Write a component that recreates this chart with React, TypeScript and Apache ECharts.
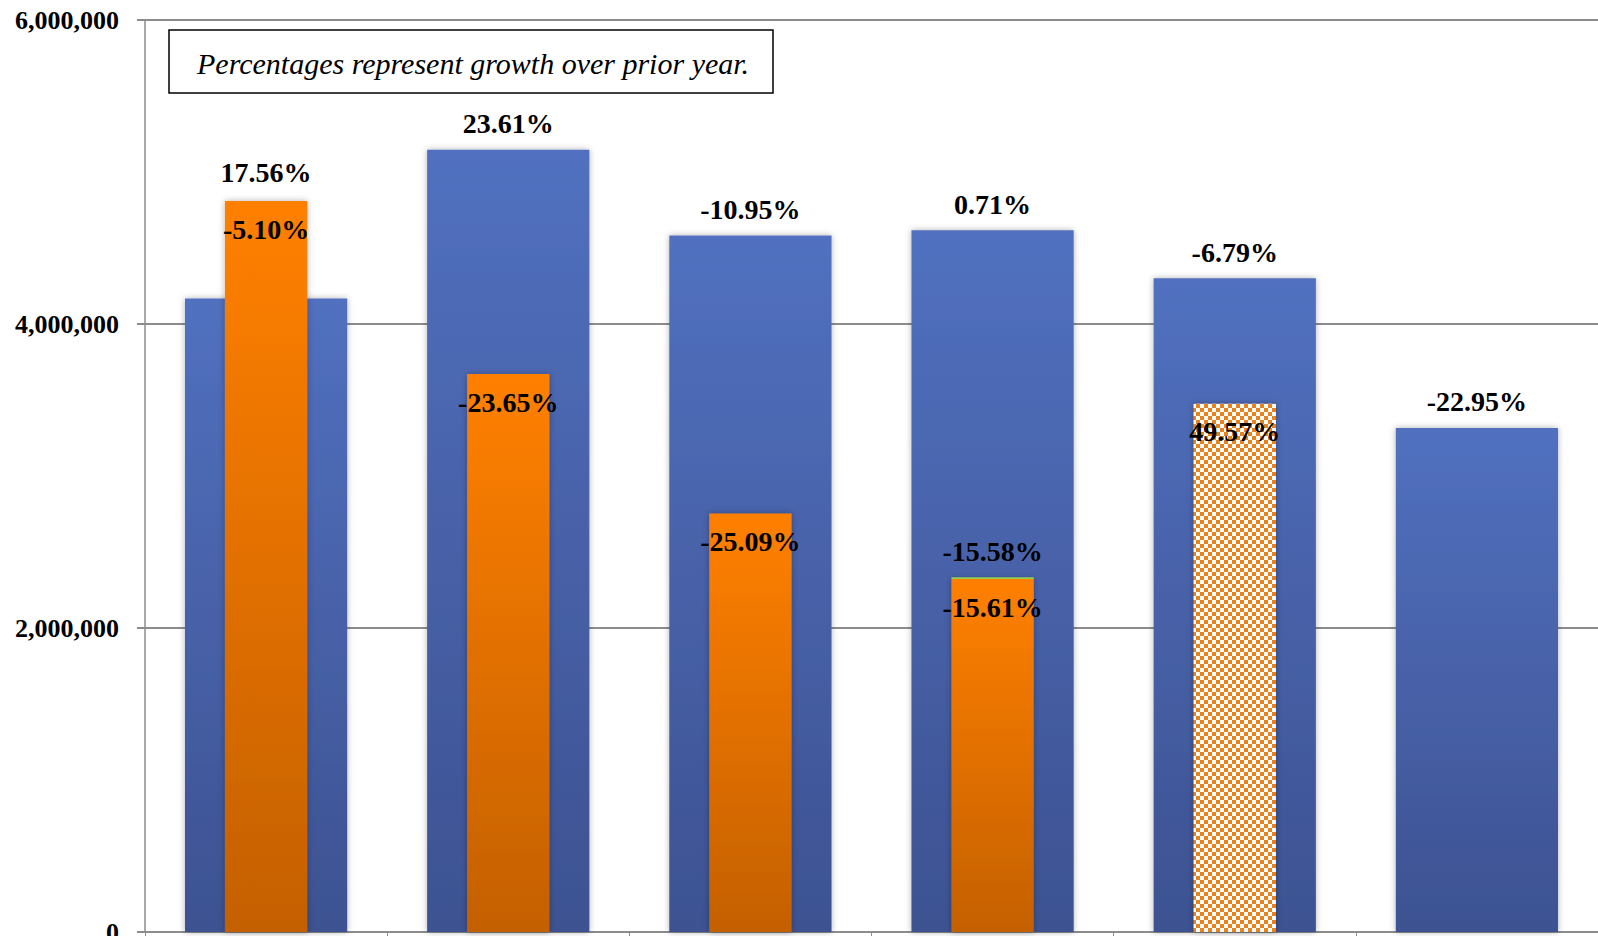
import React, { useEffect, useRef } from "react";
import * as echarts from "echarts";

const categories = ["C1", "C2", "C3", "C4", "C5", "C6"];
const totalValues = [4167000, 5146000, 4583000, 4616000, 4301000, 3316000];
const totalLabels = ["17.56%", "23.61%", "-10.95%", "0.71%", "-6.79%", "-22.95%"];
const partValues: (number | null)[] = [4809000, 3671000, 2753000, 2322000, 3476000, null];
const partLabels = ["-5.10%", "-23.65%", "-25.09%", "-15.61%", "49.57%", ""];
const extraValues: (number | null)[] = [null, null, null, 12000, null, null];
const extraLabels = ["", "", "", "-15.58%", "", ""];
const yTicks = [0, 2000000, 4000000, 6000000];
const note = "Percentages represent growth over prior year.";

const FONT = "'Liberation Serif', 'Times New Roman', serif";

function makeChecker(): HTMLCanvasElement {
  const c = document.createElement("canvas");
  c.width = 8;
  c.height = 8;
  const ctx = c.getContext("2d")!;
  ctx.fillStyle = "#ffffff";
  ctx.fillRect(0, 0, 8, 8);
  ctx.fillStyle = "#E8821E";
  ctx.fillRect(0, 0, 4, 4);
  ctx.fillRect(4, 4, 4, 4);
  return c;
}

export default function App() {
  const ref = useRef<HTMLDivElement>(null);
  useEffect(() => {
    if (!ref.current) return;
    const chart = echarts.init(ref.current, undefined, { renderer: "svg" });
    const blueGrad = new echarts.graphic.LinearGradient(0, 0, 0, 1, [
      { offset: 0, color: "#5170BF" },
      { offset: 1, color: "#3D5291" },
    ]);
    const orangeGrad = new echarts.graphic.LinearGradient(0, 0, 0, 1, [
      { offset: 0, color: "#FF8000" },
      { offset: 1, color: "#C46000" },
    ]);
    const checker = makeChecker();
    const labelStyle = {
      fontFamily: FONT,
      fontWeight: "bold" as const,
      fontSize: 28,
      color: "#000",
    };
    const shadow = {
      shadowBlur: 6,
      shadowColor: "rgba(0,0,0,0.3)",
    };
    chart.setOption({
      animation: false,
      grid: {
        left: 145,
        right: 0,
        top: 20,
        bottom: 4,
        containLabel: false,
        outerBoundsMode: "none",
      },
      xAxis: [
        {
          type: "category",
          data: categories,
          axisLine: { show: true, lineStyle: { color: "#8c8c8c", width: 2 } },
          axisTick: { show: true, length: 6, lineStyle: { color: "#8c8c8c" } },
          axisLabel: { show: false },
        },
        {
          type: "category",
          data: categories,
          show: false,
          position: "bottom",
        },
      ],
      yAxis: {
        type: "value",
        min: yTicks[0],
        max: yTicks[yTicks.length - 1],
        interval: yTicks[1] - yTicks[0],
        axisLine: { show: true, lineStyle: { color: "#8c8c8c", width: 1.5 } },
        axisTick: { show: true, length: 8, lineStyle: { color: "#8c8c8c", width: 2 } },
        splitLine: { show: true, lineStyle: { color: "#8c8c8c", width: 2 } },
        axisLabel: {
          margin: 26,
          fontFamily: FONT,
          fontWeight: "bold",
          fontSize: 26,
          color: "#000",
          formatter: (v: number) => v.toLocaleString("en-US"),
        },
      },
      graphic: [
        {
          type: "rect",
          shape: { x: 169, y: 30, width: 604, height: 63 },
          style: { fill: "#fff", stroke: "#000", lineWidth: 1.5 },
          z: 100,
        },
        {
          type: "text",
          x: 197,
          y: 63,
          style: {
            text: note,
            font: `italic 30px ${FONT}`,
            fill: "#000",
            verticalAlign: "middle",
          },
          z: 101,
        },
      ],
      series: [
        {
          type: "bar",
          xAxisIndex: 0,
          barWidth: "67%",
          data: totalValues.map((v, i) =>
            i === 0 ? { value: v, label: { offset: [0, -100] } } : v
          ),
          itemStyle: { color: blueGrad, ...shadow },
          label: {
            show: true,
            position: "top",
            distance: 12,
            ...labelStyle,
            formatter: (p: any) => totalLabels[p.dataIndex],
          },
        },
        {
          type: "bar",
          xAxisIndex: 1,
          stack: "part",
          barWidth: "34%",
          data: partValues.map((v, i) =>
            i === 4
              ? { value: v, itemStyle: { color: { image: checker, repeat: "repeat" } } }
              : v
          ),
          itemStyle: { color: orangeGrad, ...shadow },
          label: {
            show: true,
            position: "insideTop",
            distance: 14,
            ...labelStyle,
            formatter: (p: any) => partLabels[p.dataIndex],
          },
        },
        {
          type: "bar",
          xAxisIndex: 1,
          stack: "part",
          barWidth: "34%",
          data: extraValues,
          itemStyle: { color: "#92D050" },
          label: {
            show: true,
            position: "top",
            distance: 12,
            ...labelStyle,
            formatter: (p: any) => extraLabels[p.dataIndex],
          },
        },
      ],
    });
    return () => chart.dispose();
  }, []);
  return (
    <div
      ref={ref}
      style={{ position: "fixed", left: 0, top: 0, width: 1598, height: 936, background: "#fff" }}
    />
  );
}
